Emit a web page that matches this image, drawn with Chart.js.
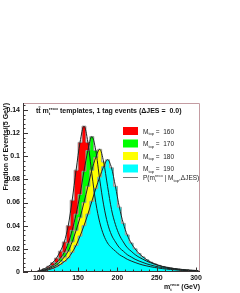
<!DOCTYPE html>
<html>
<head>
<meta charset="utf-8">
<script src="https://cdn.jsdelivr.net/npm/chart.js@4.4.1/dist/chart.umd.min.js"></script>
<style>
  html, body { margin: 0; padding: 0; background: #fff; }
</style>
</head>
<body>
<canvas id="templateChart" width="240" height="293"></canvas>
<script>
// lower bin edges (GeV), 5 GeV bins
const massBins = [95, 100, 105, 110, 115, 120, 125, 130, 135, 140,
  145, 150, 155, 160, 165, 170, 175, 180, 185, 190,
  195, 200, 205, 210, 215, 220, 225, 230, 235, 240,
  245, 250, 255, 260, 265, 270, 275, 280, 285, 290, 295, 300];
const binWidth = 5;

// fraction of events per bin, one template per top mass
const mtop160 = [0.0005, 0.0015, 0.003, 0.005, 0.008, 0.012, 0.018, 0.026, 0.040, 0.062,
  0.088, 0.112, 0.126, 0.112, 0.085, 0.060, 0.043, 0.032, 0.025, 0.021,
  0.018, 0.015, 0.013, 0.011, 0.0095, 0.0082, 0.007, 0.006, 0.0052, 0.0045,
  0.0039, 0.0034, 0.0029, 0.0025, 0.0022, 0.0019, 0.0016, 0.0014, 0.0012, 0.001, 0.0009, 0.0008];
const mtop170 = [0.0004, 0.001, 0.002, 0.0035, 0.0055, 0.008, 0.012, 0.017, 0.025, 0.036,
  0.050, 0.067, 0.087, 0.105, 0.117, 0.105, 0.080, 0.058, 0.042, 0.032,
  0.026, 0.021, 0.018, 0.015, 0.013, 0.011, 0.0095, 0.0082, 0.007, 0.006,
  0.0051, 0.0044, 0.0038, 0.0032, 0.0028, 0.0024, 0.002, 0.0017, 0.0015, 0.0013, 0.0011, 0.001];
const mtop180 = [0.0003, 0.0008, 0.0015, 0.0027, 0.0042, 0.006, 0.009, 0.013, 0.018, 0.026,
  0.036, 0.047, 0.060, 0.074, 0.088, 0.099, 0.106, 0.095, 0.074, 0.054,
  0.041, 0.032, 0.026, 0.021, 0.018, 0.015, 0.0128, 0.011, 0.0093, 0.0079,
  0.0067, 0.0057, 0.0048, 0.0041, 0.0035, 0.003, 0.0026, 0.0022, 0.0019, 0.0016, 0.0014, 0.0012];
const mtop190 = [0.0002, 0.0006, 0.0012, 0.002, 0.003, 0.0045, 0.0065, 0.009, 0.012, 0.017,
  0.023, 0.031, 0.040, 0.050, 0.061, 0.072, 0.082, 0.091, 0.097, 0.090,
  0.074, 0.056, 0.042, 0.032, 0.025, 0.020, 0.016, 0.013, 0.0105, 0.0085,
  0.007, 0.0057, 0.0047, 0.0039, 0.0032, 0.0027, 0.0022, 0.0018, 0.0015, 0.0012, 0.001, 0.0008];

const templates = [mtop160, mtop170, mtop180, mtop190];
const templateMasses = ['160', '170', '180', '190'];
const templateColors = ['#ff0000', '#00ff00', '#ffff00', '#00ffff'];

const xTicks = [100, 150, 200, 250, 300];
const yTicks = [0, 0.02, 0.04, 0.06, 0.08, 0.1, 0.12, 0.14];
const yTickLabels = ['0', '0.02', '0.04', '0.06', '0.08', '0.1', '0.12', '0.14'];

const FONT = '"Liberation Sans", Arial, sans-serif';
Chart.defaults.font.family = FONT;

function toSteps(values) {
  const pts = massBins.map((m, i) => ({ x: m, y: values[i] }));
  pts.push({ x: massBins[massBins.length - 1] + binWidth, y: 0 });
  return pts;
}
function toCurve(values) {
  return massBins.map((m, i) => ({ x: m + binWidth / 2, y: values[i] }));
}

// text with sub/superscripts: parts = [{t, sub, sup, bar}]
function richWidth(ctx, parts, size, weight) {
  let w = 0;
  parts.forEach(p => {
    ctx.font = `${weight} ${size}px ${FONT}`;
    if (p.t) w += ctx.measureText(p.t).width;
    ctx.font = `${weight} ${size * 0.62}px ${FONT}`;
    const a = p.sub ? ctx.measureText(p.sub).width : 0;
    const b = p.sup ? ctx.measureText(p.sup).width : 0;
    w += Math.max(a, b);
  });
  return w;
}
function drawRich(ctx, parts, x, y, size, weight, align) {
  const w = richWidth(ctx, parts, size, weight);
  let cx = align === 'right' ? x - w : (align === 'center' ? x - w / 2 : x);
  ctx.textAlign = 'left';
  ctx.textBaseline = 'alphabetic';
  parts.forEach(p => {
    if (p.t) {
      ctx.font = `${weight} ${size}px ${FONT}`;
      const tw = ctx.measureText(p.t).width;
      ctx.fillText(p.t, cx, y);
      if (p.bar) {
        ctx.fillRect(cx + tw * 0.1, y - size * 0.92, tw * 0.8, 0.8);
      }
      cx += tw;
    }
    ctx.font = `${weight} ${size * 0.62}px ${FONT}`;
    let sw = 0;
    if (p.sup) { ctx.fillText(p.sup, cx, y - size * 0.42); sw = ctx.measureText(p.sup).width; }
    if (p.sub) { ctx.fillText(p.sub, cx, y + size * 0.28); sw = Math.max(sw, ctx.measureText(p.sub).width); }
    cx += sw;
  });
}

const rootDecor = {
  id: 'rootDecor',
  afterDraw(chart) {
    const { ctx, chartArea: a, scales: { x, y } } = chart;
    ctx.save();

    // frame
    ctx.lineWidth = 1;
    ctx.strokeStyle = '#c49ca2';
    ctx.beginPath();
    ctx.moveTo(a.left, a.top + 0.5); ctx.lineTo(a.right - 0.5, a.top + 0.5);
    ctx.lineTo(a.right - 0.5, a.bottom);
    ctx.stroke();
    ctx.strokeStyle = '#3a3434';
    ctx.beginPath();
    ctx.moveTo(a.left + 0.5, a.top); ctx.lineTo(a.left + 0.5, a.bottom - 0.5);
    ctx.lineTo(a.right, a.bottom - 0.5);
    ctx.stroke();

    // inward ticks
    ctx.beginPath();
    for (let v = 0; v <= 0.1461; v += 0.004) {
      const major = Math.abs(v / 0.02 - Math.round(v / 0.02)) < 1e-6;
      const py = Math.round(y.getPixelForValue(v)) + 0.5;
      ctx.moveTo(a.left, py); ctx.lineTo(a.left + (major ? 5 : 2.5), py);
    }
    for (let m = 80; m <= 305; m += 10) {
      const major = m % 50 === 0;
      const px = Math.round(x.getPixelForValue(m)) + 0.5;
      ctx.moveTo(px, a.bottom); ctx.lineTo(px, a.bottom - (major ? 4.5 : 2.5));
    }
    ctx.stroke();

    ctx.fillStyle = '#111';
    // title
    drawRich(ctx, [
      { t: 't' }, { t: 't', bar: true }, { t: ' m', sub: 't', sup: 'reco' },
      { t: ' templates, 1 tag events (\u0394JES =  0.0)' }
    ], 36, 113, 7, 'bold', 'left');

    // y title
    ctx.save();
    ctx.translate(7.5, a.top);
    ctx.rotate(-Math.PI / 2);
    drawRich(ctx, [{ t: 'Fraction of Events/(5 GeV)' }], 0, 0, 7, 'bold', 'right');
    ctx.restore();

    // x title
    drawRich(ctx, [{ t: 'm', sub: 't', sup: 'reco' }, { t: ' (GeV)' }], 200, 289, 7, 'bold', 'right');

    // legend
    const lx = 123, lw = 15, lh = 8;
    const rows = [127, 139.5, 152, 164.5];
    templateMasses.forEach((m, i) => {
      ctx.fillStyle = templateColors[i];
      ctx.fillRect(lx, rows[i], lw, lh);
      ctx.fillStyle = '#222';
      drawRich(ctx, [{ t: 'M', sub: 'top' }, { t: ' =  ' + m }], 143, rows[i] + 6.5, 6.5, 'normal', 'left');
    });
    ctx.strokeStyle = '#777';
    ctx.beginPath();
    ctx.moveTo(lx, 177.5); ctx.lineTo(lx + lw, 177.5);
    ctx.stroke();
    ctx.fillStyle = '#222';
    drawRich(ctx, [{ t: 'P(m', sub: 't', sup: 'reco' }, { t: ' | M', sub: 'top' }, { t: ',\u0394JES)' }],
      143, 180, 6.5, 'normal', 'left');

    ctx.restore();
  }
};

const datasets = [];
// smooth parametrised curves drawn on top
templates.forEach((vals, i) => {
  datasets.push({
    data: toCurve(vals),
    borderColor: '#1c2424',
    borderWidth: 1,
    pointRadius: 0,
    fill: false,
    cubicInterpolationMode: 'monotone',
    order: 0
  });
});
// filled templates: 190 drawn last (on top), 160 first
templates.forEach((vals, i) => {
  datasets.push({
    data: toSteps(vals),
    stepped: true,
    backgroundColor: templateColors[i],
    borderColor: '#9a9a9a',
    borderWidth: 1,
    pointRadius: 0,
    fill: 'origin',
    order: 4 - i
  });
});

new Chart(document.getElementById('templateChart'), {
  type: 'line',
  data: { datasets: datasets },
  options: {
    responsive: false,
    animation: false,
    devicePixelRatio: 1,
    layout: { padding: { top: 103, right: 40, left: 0, bottom: 0 } },
    plugins: { legend: { display: false }, tooltip: { enabled: false } },
    scales: {
      x: {
        type: 'linear',
        min: 80,
        max: 305,
        grid: { display: false, drawTicks: false },
        border: { display: false },
        afterBuildTicks: s => { s.ticks = xTicks.map(v => ({ value: v })); },
        afterFit: s => { s.height = 21; },
        ticks: { padding: 2, autoSkip: false, maxRotation: 0, color: '#111', font: { size: 7, weight: 'bold' } }
      },
      y: {
        min: 0,
        max: 0.146,
        grid: { display: false, drawTicks: false },
        border: { display: false },
        afterBuildTicks: s => { s.ticks = yTicks.map(v => ({ value: v })); },
        afterFit: s => { s.width = 23; },
        ticks: {
          padding: 3, color: '#111', font: { size: 7, weight: 'bold' },
          callback: (v, i) => yTickLabels[i]
        }
      }
    }
  },
  plugins: [rootDecor]
});
</script>
</body>
</html>
